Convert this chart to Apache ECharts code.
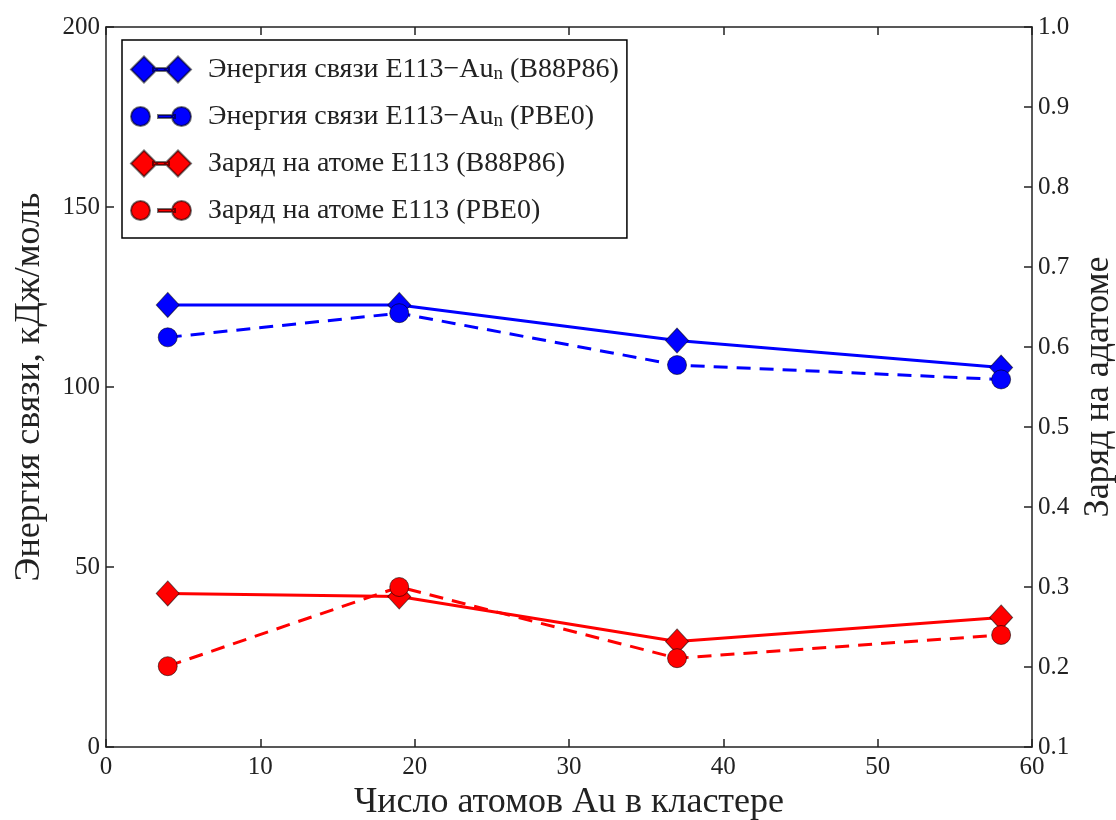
<!DOCTYPE html>
<html>
<head>
<meta charset="utf-8">
<script src="https://cdn.jsdelivr.net/npm/echarts@6/dist/echarts.min.js"></script>
<style>
html,body{margin:0;padding:0;background:#fff;}
#chart{width:1116px;height:820px;}
</style>
</head>
<body>
<div id="chart"></div>
<script>
// ---- data ----
var clusterSizes = [4, 19, 37, 58];
var energyB88P86 = [122.8, 122.8, 112.9, 105.4];
var energyPBE0 = [113.8, 120.5, 106.1, 102.1];
var chargeB88P86 = [0.292, 0.288, 0.232, 0.262];
var chargePBE0 = [0.201, 0.300, 0.211, 0.240];
var seriesNames = [
  'Энергия связи E113−Au{sub|n} (B88P86)',
  'Энергия связи E113−Au{sub|n} (PBE0)',
  'Заряд на атоме E113 (B88P86)',
  'Заряд на атоме E113 (PBE0)'
];
var xTitle = 'Число атомов Au в кластере';
var yLeftTitle = 'Энергия связи, кДж/моль';
var yRightTitle = 'Заряд на адатоме';

function pairs(xs, ys) { return xs.map(function (x, i) { return [x, ys[i]]; }); }

var FONT = 'Liberation Serif';
var AX = '#222';
var BLUE = '#0000ff';
var RED = '#ff0000';
var iconDiamond = 'path://M0,13 L13,0 L26,13 L13,26 Z M22,11.5 L38,11.5 L38,14.5 L22,14.5 Z M34,13 L47,0 L60,13 L47,26 Z';
var iconCircle = 'path://M0,9.5 A9.5,9.5 0 1,1 19,9.5 A9.5,9.5 0 1,1 0,9.5 Z M27,8 L44,8 L44,11 L27,11 Z M41,9.5 A9.5,9.5 0 1,1 60,9.5 A9.5,9.5 0 1,1 41,9.5 Z';

var chart = echarts.init(document.getElementById('chart'));
var lineStyleAxis = { color: AX, width: 1.5 };

function mkSeries(name, data, color, yIdx, symbol, size, dashed) {
  return {
    name: name, type: 'line', data: data,
    xAxisIndex: 0, yAxisIndex: yIdx,
    symbol: symbol, symbolSize: size,
    showAllSymbol: true,
    lineStyle: { color: color, width: 3, type: dashed ? [14, 9] : 'solid' },
    itemStyle: { color: color, borderColor: 'rgba(0,0,0,0.55)', borderWidth: 1 },
    emphasis: { disabled: true },
    animation: false
  };
}

chart.setOption({
  animation: false,
  backgroundColor: '#fff',
  grid: { left: 106, right: 84, top: 27, bottom: 73, containLabel: false, outerBoundsMode: 'none' },
  legend: {
    orient: 'vertical', left: 122, top: 40,
    padding: [15, 8, 13, 8],
    borderColor: '#000', borderWidth: 1.5, backgroundColor: '#fff',
    itemWidth: 60, itemHeight: 26, itemGap: 18,
    selectedMode: false,
    data: [
      { name: seriesNames[0], icon: iconDiamond },
      { name: seriesNames[1], icon: iconCircle },
      { name: seriesNames[2], icon: iconDiamond },
      { name: seriesNames[3], icon: iconCircle }
    ],
    formatter: function (n) { return n; },
    textStyle: {
      fontFamily: FONT, fontSize: 28, color: AX, padding: [0, 0, 0, 12], lineHeight: 29,
      rich: { sub: { fontFamily: FONT, fontSize: 19, color: AX, verticalAlign: 'bottom', padding: [9, 0, 0, 0] } }
    }
  },
  xAxis: [
    {
      type: 'value', min: 0, max: 60, interval: 10, position: 'bottom',
      name: xTitle, nameLocation: 'middle', nameGap: 27,
      nameTextStyle: { fontFamily: FONT, fontSize: 36, color: AX },
      axisLine: { show: true, onZero: false, lineStyle: lineStyleAxis },
      axisTick: { show: true, inside: true, length: 8, lineStyle: lineStyleAxis },
      axisLabel: { fontFamily: FONT, fontSize: 25, color: AX, margin: 8 },
      splitLine: { show: false }
    },
    {
      type: 'value', min: 0, max: 60, interval: 10, position: 'top',
      axisLine: { show: true, onZero: false, lineStyle: lineStyleAxis },
      axisTick: { show: true, inside: true, length: 8, lineStyle: lineStyleAxis },
      axisLabel: { show: false },
      splitLine: { show: false }
    }
  ],
  yAxis: [
    {
      type: 'value', min: 0, max: 200, interval: 50, position: 'left',
      name: yLeftTitle, nameLocation: 'middle', nameGap: 58, nameRotate: 90,
      nameTextStyle: { fontFamily: FONT, fontSize: 36, color: AX },
      axisLine: { show: true, onZero: false, lineStyle: lineStyleAxis },
      axisTick: { show: true, inside: true, length: 8, lineStyle: lineStyleAxis },
      axisLabel: { fontFamily: FONT, fontSize: 25, color: AX, margin: 6 },
      splitLine: { show: false }
    },
    {
      type: 'value', min: 0.1, max: 1.0, interval: 0.1, position: 'right',
      name: yRightTitle, nameLocation: 'middle', nameGap: 48, nameRotate: 90,
      nameTextStyle: { fontFamily: FONT, fontSize: 36, color: AX },
      axisLine: { show: true, onZero: false, lineStyle: lineStyleAxis },
      axisTick: { show: true, inside: true, length: 8, lineStyle: lineStyleAxis },
      axisLabel: { fontFamily: FONT, fontSize: 25, color: AX, margin: 6,
        formatter: function (v) { return v.toFixed(1); } },
      splitLine: { show: false }
    }
  ],
  series: [
    mkSeries(seriesNames[0], pairs(clusterSizes, energyB88P86), BLUE, 0, 'diamond', [23, 25], false),
    mkSeries(seriesNames[1], pairs(clusterSizes, energyPBE0), BLUE, 0, 'circle', 19, true),
    mkSeries(seriesNames[2], pairs(clusterSizes, chargeB88P86), RED, 1, 'diamond', [23, 25], false),
    mkSeries(seriesNames[3], pairs(clusterSizes, chargePBE0), RED, 1, 'circle', 19, true)
  ]
});
</script>
</body>
</html>
